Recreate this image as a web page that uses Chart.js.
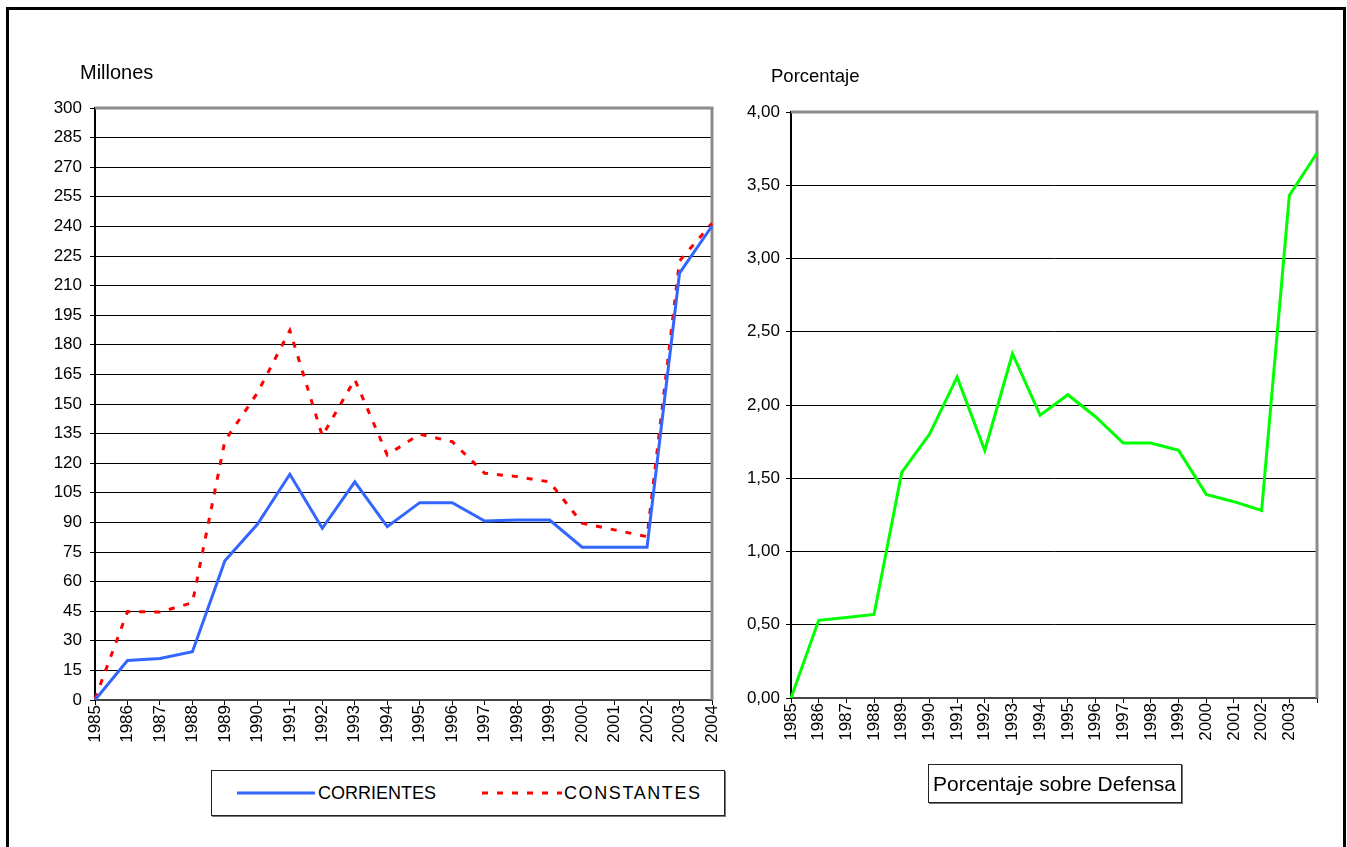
<!DOCTYPE html>
<html>
<head>
<meta charset="utf-8">
<script src="https://cdn.jsdelivr.net/npm/chart.js@4"></script>
<style>
  body { margin: 0; background: #fff; font-family: "Liberation Sans", Arial, sans-serif; }
  #frame { position: absolute; left: 6px; top: 7px; width: 1334px; height: 860px; border: 3px solid #000; }
  .cv { position: absolute; }
  .legend { position: absolute; background: #fff; border: 1px solid #222; box-shadow: 1px 1px 0 #777; color: #000; }
  .item { position: absolute; top: 0; height: 100%; display: flex; align-items: center; }
</style>
</head>
<body>
<div id="frame"></div>
<div class="cv" style="left:20px; top:50px; width:710px; height:720px;"><canvas id="left-chart"></canvas></div>
<div class="cv" style="left:740px; top:50px; width:590px; height:718px;"><canvas id="right-chart"></canvas></div>

<div class="legend" style="left:211px; top:770px; width:512px; height:44px; font-size:18px;">
  <div class="item" style="left:25px;">
    <svg width="78" height="6"><line x1="0" y1="3" x2="78" y2="3" stroke="#3366ff" stroke-width="3"/></svg>
    <span style="margin-left:3px;">CORRIENTES</span>
  </div>
  <div class="item" style="left:270px;">
    <svg width="80" height="6"><line x1="0" y1="3" x2="80" y2="3" stroke="#ff0000" stroke-width="3" stroke-dasharray="6 9"/></svg>
    <span style="margin-left:2px; letter-spacing:1.6px;">CONSTANTES</span>
  </div>
</div>
<div class="legend" style="left:928px; top:764px; width:252px; height:37px; font-size:21px;">
  <div class="item" style="left:4px;">Porcentaje sobre Defensa</div>
</div>

<script>
const years = ['1985','1986','1987','1988','1989','1990','1991','1992','1993','1994',
               '1995','1996','1997','1998','1999','2000','2001','2002','2003','2004'];
const corrientes = [0, 20, 21, 24.5, 70.6, 89, 114.4, 87, 110.5, 87.8,
                    100, 100, 90.7, 91.2, 91.2, 77.4, 77.4, 77.4, 216.3, 240.2];
const constantes = [0.5, 44.8, 44.6, 49.3, 131.3, 155.6, 187.3, 133.8, 162.4, 124.2,
                    134.7, 130.9, 114.9, 113.2, 110.5, 89.6, 86.2, 82.8, 222.5, 241.6];

// right chart: last category has no label
const pctLabels = ['1985','1986','1987','1988','1989','1990','1991','1992','1993','1994',
                   '1995','1996','1997','1998','1999','2000','2001','2002','2003',''];
const porcentaje = [0, 0.53, 0.55, 0.57, 1.54, 1.80, 2.19, 1.69, 2.35, 1.93,
                    2.07, 1.92, 1.74, 1.74, 1.69, 1.39, 1.34, 1.28, 3.43, 3.72];

const FONT = "'Liberation Sans', Arial, sans-serif";

// gray plot border on top/right plus the unit caption above the axis
const plotFrame = {
  id: 'plotFrame',
  beforeDatasetsDraw(chart, args, opts) {
    const a = chart.chartArea, ctx = chart.ctx;
    ctx.save();
    ctx.strokeStyle = '#8c8c8c';
    ctx.lineWidth = 3;
    ctx.beginPath();
    ctx.moveTo(a.left, a.top);
    ctx.lineTo(a.right, a.top);
    ctx.lineTo(a.right, a.bottom);
    ctx.stroke();
    ctx.restore();
  },
  afterDraw(chart, args, opts) {
    const a = chart.chartArea, ctx = chart.ctx;
    ctx.save();
    ctx.fillStyle = '#000';
    ctx.font = opts.size + 'px ' + FONT;
    ctx.textBaseline = 'alphabetic';
    ctx.fillText(opts.text, a.left + opts.dx, a.top + opts.dy);
    ctx.restore();
  }
};

const xAxis = (height) => ({
  grid: { display: true, drawOnChartArea: false, drawTicks: true, tickLength: 5, color: '#000' },
  border: { display: true, color: '#444', width: 2 },
  ticks: { color: '#000', font: { family: FONT, size: 17 }, maxRotation: 90, minRotation: 90, autoSkip: false, padding: 0 },
  afterFit: (s) => { s.height = height; s.paddingLeft = 0; s.paddingRight = 0; }
});

new Chart('left-chart', {
  type: 'line',
  data: {
    labels: years,
    datasets: [
      { label: 'CORRIENTES', data: corrientes, borderColor: '#3366ff', borderWidth: 3, pointRadius: 0, tension: 0 },
      { label: 'CONSTANTES', data: constantes, borderColor: '#ff0000', borderWidth: 3, borderDash: [6, 9], pointRadius: 0, tension: 0 }
    ]
  },
  options: {
    animation: false,
    responsive: true,
    maintainAspectRatio: false,
    layout: { padding: { top: 58, right: 18, left: 0, bottom: 0 } },
    plugins: { legend: { display: false }, tooltip: { enabled: false },
               plotFrame: { text: 'Millones', size: 20, dx: -15, dy: -29 } },
    scales: {
      x: xAxis(70),
      y: {
        min: 0, max: 300,
        ticks: { stepSize: 15, color: '#000', font: { family: FONT, size: 17 }, padding: 8 },
        grid: { color: '#000', lineWidth: 1, tickLength: 5 },
        border: { display: true, color: '#000', width: 2 },
        afterFit: (s) => { s.width = 75; }
      }
    }
  },
  plugins: [plotFrame]
});

new Chart('right-chart', {
  type: 'line',
  data: {
    labels: pctLabels,
    datasets: [
      { label: 'Porcentaje sobre Defensa', data: porcentaje, borderColor: '#00ff00', borderWidth: 3, pointRadius: 0, tension: 0 }
    ]
  },
  options: {
    animation: false,
    responsive: true,
    maintainAspectRatio: false,
    layout: { padding: { top: 62, right: 13, left: 0, bottom: 0 } },
    plugins: { legend: { display: false }, tooltip: { enabled: false },
               plotFrame: { text: 'Porcentaje', size: 18.5, dx: -20, dy: -30 } },
    scales: {
      x: xAxis(70),
      y: {
        min: 0, max: 4,
        ticks: { stepSize: 0.5, color: '#000', font: { family: FONT, size: 17 }, padding: 6,
                 callback: (v) => v.toFixed(2).replace('.', ',') },
        grid: { color: '#000', lineWidth: 1, tickLength: 5 },
        border: { display: true, color: '#000', width: 2 },
        afterFit: (s) => { s.width = 51; }
      }
    }
  },
  plugins: [plotFrame]
});
</script>
</body>
</html>
